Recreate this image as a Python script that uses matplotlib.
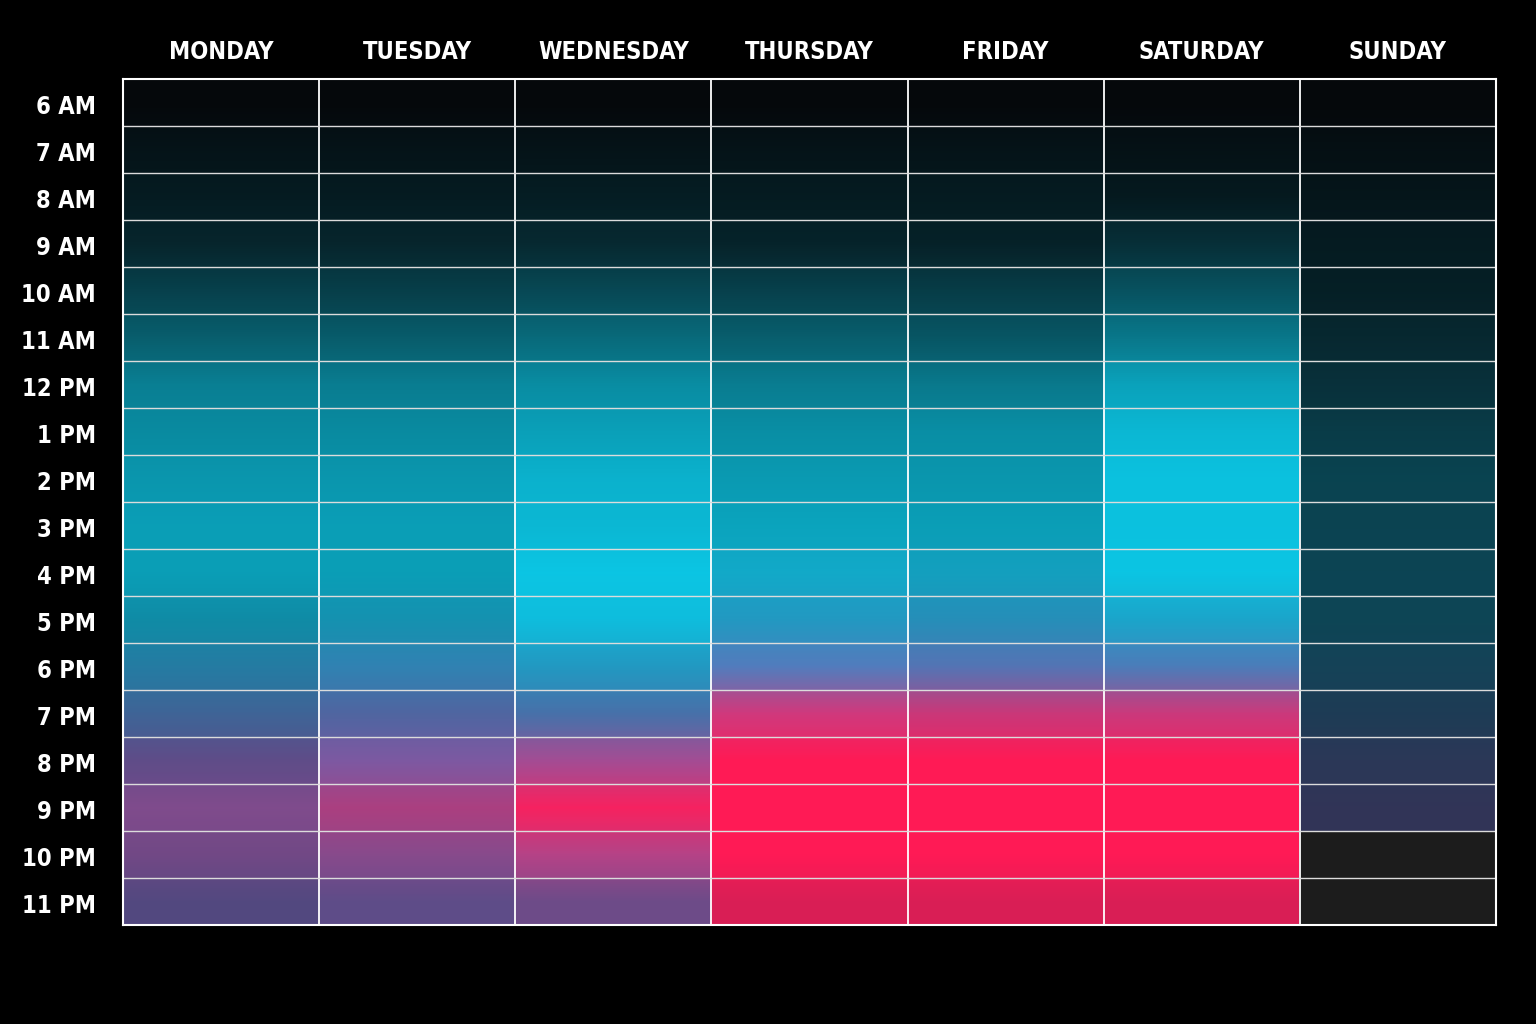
import numpy as np
import matplotlib.pyplot as plt
from matplotlib.colors import LinearSegmentedColormap, to_rgb
from matplotlib import font_manager

# Etiquetas de los ejes
dias = ['MONDAY', 'TUESDAY', 'WEDNESDAY', 'THURSDAY', 'FRIDAY', 'SATURDAY', 'SUNDAY']
horas = ['6 AM', '7 AM', '8 AM', '9 AM', '10 AM', '11 AM', '12 PM', '1 PM', '2 PM',
         '3 PM', '4 PM', '5 PM', '6 PM', '7 PM', '8 PM', '9 PM', '10 PM', '11 PM']

# Intensidad de actividad (0 = sin actividad, 1 = máximo); nan = sin datos
actividad = [
    # Mon   Tue   Wed   Thu   Fri   Sat   Sun
    [0.00, 0.00, 0.00, 0.00, 0.00, 0.00, 0.00],   # 6 AM
    [0.06, 0.06, 0.06, 0.06, 0.06, 0.05, 0.04],   # 7 AM
    [0.10, 0.10, 0.11, 0.10, 0.10, 0.09, 0.07],   # 8 AM
    [0.15, 0.15, 0.17, 0.14, 0.13, 0.20, 0.10],   # 9 AM
    [0.29, 0.28, 0.33, 0.29, 0.27, 0.38, 0.12],   # 10 AM
    [0.44, 0.43, 0.50, 0.44, 0.40, 0.57, 0.17],   # 11 AM
    [0.61, 0.60, 0.68, 0.60, 0.58, 0.79, 0.22],   # 12 PM
    [0.67, 0.67, 0.78, 0.69, 0.69, 0.90, 0.28],   # 1 PM
    [0.73, 0.73, 0.87, 0.75, 0.73, 0.95, 0.32],   # 2 PM
    [0.77, 0.77, 0.90, 0.80, 0.77, 0.95, 0.33],   # 3 PM
    [0.77, 0.77, 0.97, 0.87, 0.83, 0.97, 0.34],   # 4 PM
    [0.71, 0.77, 0.95, 0.88, 0.85, 0.90, 0.35],   # 5 PM
    [0.75, 0.85, 0.88, 0.92, 0.88, 0.90, 0.38],   # 6 PM
    [0.72, 0.78, 0.82, 0.95, 0.92, 0.93, 0.38],   # 7 PM
    [0.68, 0.85, 0.90, 1.00, 1.00, 1.00, 0.40],   # 8 PM
    [0.78, 0.85, 1.00, 1.00, 1.00, 1.00, 0.40],   # 9 PM
    [0.72, 0.80, 0.90, 1.00, 1.00, 1.00, np.nan], # 10 PM
    [0.62, 0.68, 0.72, 0.88, 0.88, 0.88, np.nan], # 11 PM
]

# Tono de la franja horaria (0 = día / cian, 1 = noche / rosa)
tono = [
    # Mon   Tue   Wed   Thu   Fri   Sat   Sun
    [0.00, 0.00, 0.00, 0.00, 0.00, 0.00, 0.00],   # 6 AM
    [0.00, 0.00, 0.00, 0.00, 0.00, 0.00, 0.00],   # 7 AM
    [0.00, 0.00, 0.00, 0.00, 0.00, 0.00, 0.00],   # 8 AM
    [0.00, 0.00, 0.00, 0.00, 0.00, 0.00, 0.00],   # 9 AM
    [0.00, 0.00, 0.00, 0.00, 0.00, 0.00, 0.00],   # 10 AM
    [0.00, 0.00, 0.00, 0.00, 0.00, 0.00, 0.03],   # 11 AM
    [0.00, 0.00, 0.00, 0.00, 0.00, 0.00, 0.05],   # 12 PM
    [0.00, 0.00, 0.00, 0.00, 0.00, 0.00, 0.05],   # 1 PM
    [0.00, 0.00, 0.00, 0.00, 0.00, 0.00, 0.05],   # 2 PM
    [0.00, 0.00, 0.00, 0.00, 0.00, 0.00, 0.08],   # 3 PM
    [0.00, 0.00, 0.00, 0.05, 0.06, 0.00, 0.08],   # 4 PM
    [0.05, 0.08, 0.02, 0.15, 0.18, 0.10, 0.10],   # 5 PM
    [0.20, 0.25, 0.15, 0.36, 0.38, 0.34, 0.20],   # 6 PM
    [0.35, 0.40, 0.35, 0.80, 0.80, 0.79, 0.30],   # 7 PM
    [0.52, 0.55, 0.66, 1.00, 1.00, 1.00, 0.40],   # 8 PM
    [0.60, 0.72, 0.95, 1.00, 1.00, 1.00, 0.45],   # 9 PM
    [0.58, 0.62, 0.72, 1.00, 1.00, 1.00, 0.45],   # 10 PM
    [0.50, 0.52, 0.56, 0.95, 0.95, 0.95, 0.45],   # 11 PM
]

# Escala de tono: cian -> azul -> lavanda -> magenta -> rosa
cmap_tono = LinearSegmentedColormap.from_list(
    'tono', [(0.0, '#0ccbea'), (0.25, '#3898d0'), (0.5, '#8270c8'),
             (0.75, '#d2448e'), (1.0, '#ff1a55')])
fondo_celda = np.array(to_rgb('#05080b'))
sin_datos = np.array(to_rgb('#1c1c1c'))

a = np.array(actividad, dtype=float)
p = np.array(tono, dtype=float)
vacio = np.isnan(a)
color_tono = cmap_tono(p)[..., :3]
imagen = fondo_celda + np.nan_to_num(a)[..., None] * (color_tono - fondo_celda)
imagen[vacio] = sin_datos
imagen = np.clip(imagen, 0, 1)

# Degradado vertical suave dentro de cada celda (mezcla parcial con la vecina)
sub = 24
peso = 0.35
n_filas, n_cols = a.shape
alta = np.zeros((n_filas * sub, n_cols, 3))
for r in range(n_filas):
    for k in range(sub):
        t = (k + 0.5) / sub - 0.5
        c = imagen[r]
        vecina = r - 1 if t < 0 else r + 1
        if 0 <= vecina < n_filas:
            w = abs(t) * 2 * peso * (~vacio[r] & ~vacio[vecina])
            alta[r * sub + k] = c + w[:, None] * (imagen[vecina] - c)
        else:
            alta[r * sub + k] = c

# Fuente condensada si existe; si no, Roboto
fp_cond = font_manager.FontProperties(family='DejaVu Sans', stretch='condensed', weight='bold')
ruta = font_manager.findfont(fp_cond, fallback_to_default=False)
if 'Condensed' in ruta:
    fuente = dict(family='DejaVu Sans', fontstretch='condensed', fontsize=17)
else:
    fuente = dict(family='Roboto', fontsize=17)

fig = plt.figure(figsize=(15.36, 10.24), dpi=100, facecolor='black')
ax = fig.add_axes([123 / 1536, 1 - 925 / 1024, (1496 - 123) / 1536, (925 - 79) / 1024])
ax.set_facecolor('black')

ax.imshow(alta, aspect='auto', interpolation='nearest', extent=(0, n_cols, n_filas, 0))

# Rejilla blanca
for x in range(1, n_cols):
    ax.axvline(x, color='white', lw=1.3)
for y in range(1, n_filas):
    ax.axhline(y, color='#dcdcdc', lw=1.0)
for s in ax.spines.values():
    s.set_color('white')
    s.set_linewidth(1.5)

ax.set_xlim(0, n_cols)
ax.set_ylim(n_filas, 0)
ax.set_xticks([])
ax.set_yticks([])

# Etiquetas de días y horas
for i, d in enumerate(dias):
    ax.text(i + 0.5, -0.57, d, color='white', fontweight='bold',
            ha='center', va='center', **fuente)
for j, h in enumerate(horas):
    ax.text(-0.138, j + 0.6, h, color='white', fontweight='bold',
            ha='right', va='center', **fuente)

plt.savefig('out.png', facecolor='black')
